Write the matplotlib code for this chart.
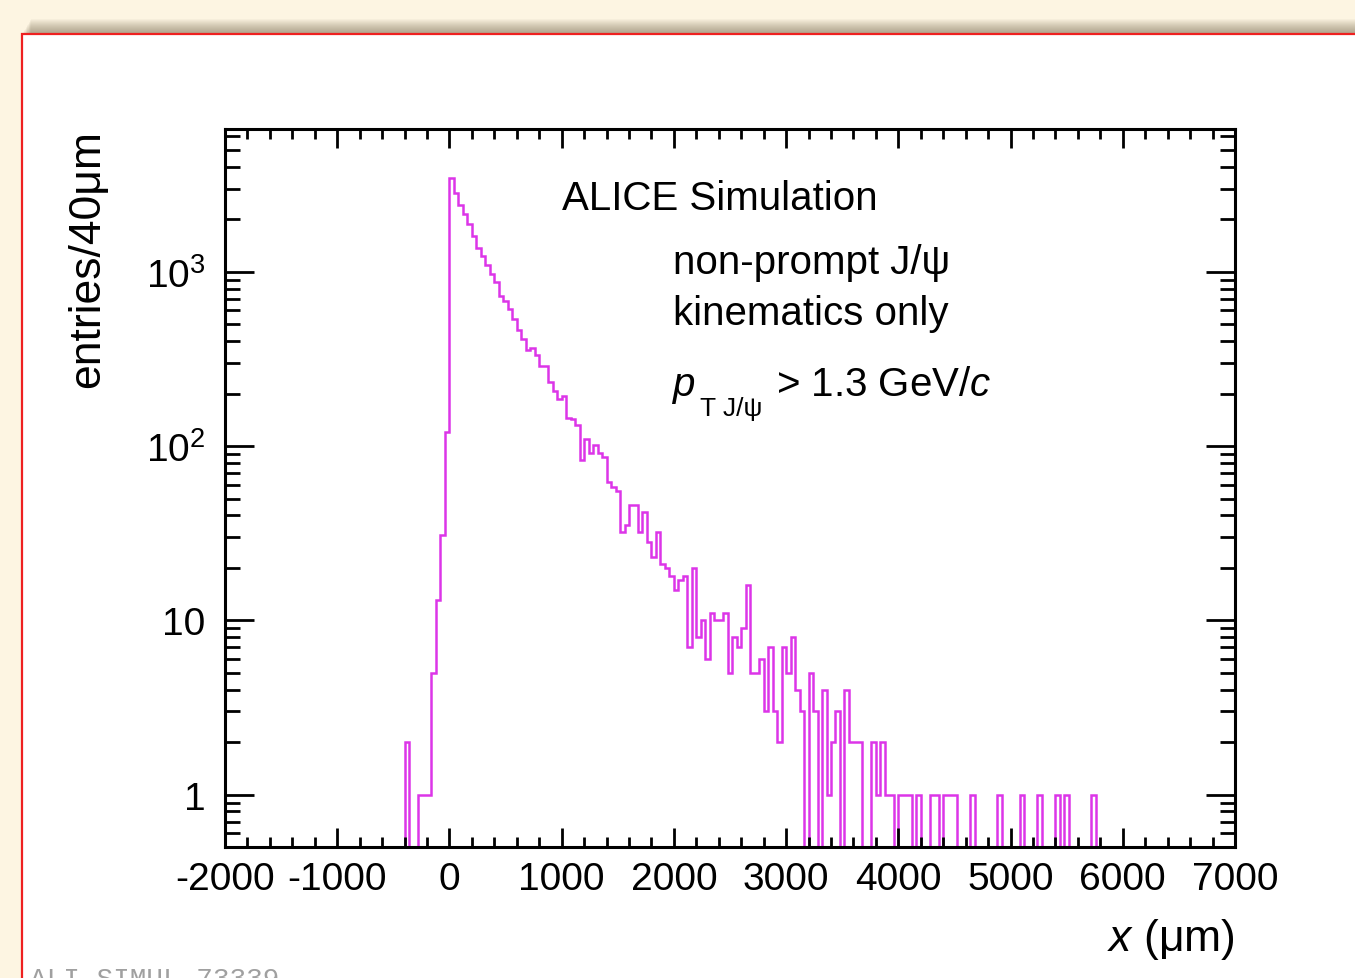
import matplotlib
matplotlib.use('Agg')
import matplotlib.pyplot as plt
from matplotlib.patches import Rectangle
from matplotlib.ticker import FixedLocator, FixedFormatter, MultipleLocator, LogLocator, NullFormatter
import numpy as np

plt.rcParams['font.family'] = ['Liberation Sans', 'DejaVu Sans']
plt.rcParams['mathtext.fontset'] = 'custom'
plt.rcParams['mathtext.rm'] = 'Liberation Sans'
plt.rcParams['mathtext.it'] = 'Liberation Sans:italic'
plt.rcParams['axes.unicode_minus'] = False

# histogram: 40 um bins from -2000 to 7000 um
BIN_WIDTH = 40
X_MIN, X_MAX = -2000, 7000
FIRST_FILLED = -400  # left edge of first bin listed below

# bins from -400 to -40 um
pre_peak = [2, 0, 0, 1, 1, 1, 5, 13, 31, 120]
# bins from 0 to 1120 um
core = [3450, 2850, 2420, 2160, 1880, 1610, 1370, 1240, 1100, 973,
        872, 731, 684, 613, 537, 461, 413, 354, 365, 332,
        288, 288, 233, 207, 187, 193, 145, 143, 132]
# bins from 1160 to 2400 um
decay = [83, 110, 91, 101, 91, 87, 62, 58, 55, 32,
         35, 46, 46, 32, 42, 28, 23, 32, 21, 20,
         18, 15, 17, 18, 7, 20, 8, 10, 6, 11, 10, 10]
# bins from 2440 to 3960 um
tail = [11, 5, 8, 7, 9, 16, 5, 5, 6, 3,
        7, 3, 2, 7, 5, 8, 4, 3, 0, 5,
        3, 0, 4, 1, 2, 3, 0, 4, 2, 2,
        2, 0, 0, 2, 1, 2, 1, 1, 0]
# bins from 4000 to 5720 um
far_tail = [1, 1, 1, 0, 1, 0, 0, 1, 1, 0,
            1, 1, 1, 0, 0, 0, 1, 0, 0, 0,
            0, 0, 1, 0, 0, 0, 0, 1, 0, 0,
            0, 1, 0, 0, 0, 1, 0, 1, 0, 0,
            0, 0, 0, 1]

y_ticks = [1, 10, 100, 1000]
y_tick_labels = ['1', '10', r'$10^{2}$', r'$10^{3}$']

MAGENTA = '#dc35e8'
W, H = 1355, 979


def fx(x):
    return x / W


def fy(y):
    return 1 - y / H


def main() -> None:
    edges = np.arange(X_MIN, X_MAX + BIN_WIDTH, BIN_WIDTH)
    counts = np.zeros(len(edges) - 1)
    filled = np.array(pre_peak + core + decay + tail + far_tail, dtype=float)
    start = (FIRST_FILLED - X_MIN) // BIN_WIDTH
    counts[start:start + len(filled)] = filled
    # empty bins drop below the visible range on the log axis
    shown = np.where(counts > 0, counts, 1e-3)

    fig = plt.figure(figsize=(W / 100, H / 100), dpi=100, facecolor='#fdf5e2')

    # shadow and white pad with red frame
    for k in range(1, 16):
        fig.patches.append(Rectangle((fx(22 + k * 0.6), fy(35)), 1.2, k / H,
                                     transform=fig.transFigure, facecolor='#5e4e30',
                                     edgecolor='none', alpha=0.04, zorder=0))
    fig.patches.append(Rectangle((fx(22), -0.1), 1.2, 1.1 - 35 / H,
                                 transform=fig.transFigure, facecolor='white',
                                 edgecolor='#ee2020', linewidth=1.6, zorder=1))

    ax = fig.add_axes([fx(225), fy(848), 1010 / W, 718 / H])
    ax.set_zorder(2)
    ax.set_facecolor('white')
    ax.stairs(shown, edges, baseline=None, color=MAGENTA, linewidth=1.8)

    ax.set_yscale('log')
    ax.set_xlim(X_MIN, X_MAX)
    ax.set_ylim(0.5, 6600)

    ax.xaxis.set_major_locator(MultipleLocator(1000))
    ax.xaxis.set_minor_locator(MultipleLocator(200))
    ax.yaxis.set_major_locator(FixedLocator(y_ticks))
    ax.yaxis.set_major_formatter(FixedFormatter(y_tick_labels))
    ax.yaxis.set_minor_locator(LogLocator(base=10, subs=np.arange(2, 10)))
    ax.yaxis.set_minor_formatter(NullFormatter())

    for side in ax.spines.values():
        side.set_linewidth(2.2)
    ax.tick_params(axis='both', which='both', direction='in', top=True, right=True,
                   width=2.0, labelsize=28, colors='black')
    ax.tick_params(axis='x', which='major', length=14, pad=10)
    ax.tick_params(axis='x', which='minor', length=7)
    ax.tick_params(axis='y', which='major', length=21, pad=14)
    ax.tick_params(axis='y', which='minor', length=11)

    fig.text(fx(88), fy(130), 'entries/40μm', rotation=90, fontsize=32,
             ha='center', va='top')
    fig.text(fx(1235), fy(940), r'$x$ (μm)', fontsize=32, ha='right', va='center')

    fig.text(fx(562), fy(210), 'ALICE Simulation', fontsize=29, va='baseline')
    fig.text(fx(673), fy(274), 'non-prompt J/ψ', fontsize=29, va='baseline')
    fig.text(fx(673), fy(325), 'kinematics only', fontsize=29, va='baseline')
    fig.text(fx(673), fy(396), 'p', fontsize=29, fontstyle='italic', va='baseline')
    fig.text(fx(700), fy(416), 'T J/ψ', fontsize=19, va='baseline')
    fig.text(fx(776), fy(396), r'> 1.3 GeV/$c$', fontsize=29, va='baseline')

    fig.text(fx(30), fy(987), 'ALI-SIMUL-73339', fontsize=20, color='#a0a0a0',
             family='Liberation Mono', va='baseline')

    fig.savefig('out.png', dpi=100, facecolor=fig.get_facecolor())
    plt.close(fig)


if __name__ == '__main__':
    main()
